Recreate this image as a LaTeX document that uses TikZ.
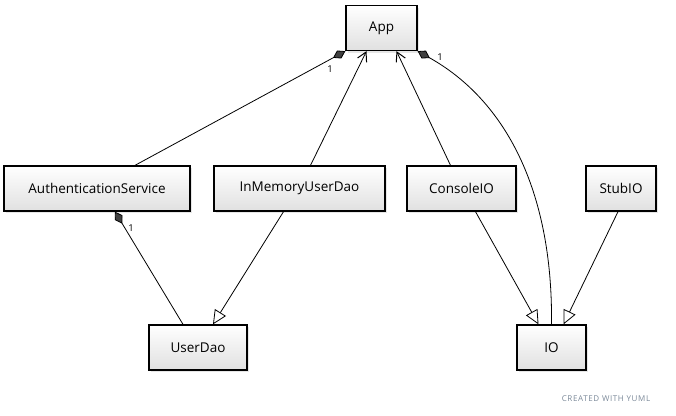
\documentclass[tikz,border=0pt]{standalone}
\usepackage{fontspec}
\setmainfont{Open Sans}
\usetikzlibrary{arrows.meta,shadows,calc}
\definecolor{yumlgray}{HTML}{7A8898}
\begin{document}
\begin{tikzpicture}[x=1pt,y=-1pt,
  cls/.style={draw=black, line width=1.3pt, top color=white, bottom color=black!12,
    minimum height=45pt, inner sep=0pt, font=\fontsize{13.5}{15}\selectfont,
    drop shadow={opacity=0.2, shadow xshift=2pt, shadow yshift=-2pt}},
  link/.style={line width=0.8pt, black},
  comp/.style={link, {Diamond[length=14pt,width=9pt,fill=black!75,line width=0.8pt]}-},
  nav/.style={link, -{Straight Barb[length=9pt,width=10pt,line width=1pt]}},
  inh/.style={link, -{Triangle[open,length=14pt,width=13pt,fill=white,line width=0.8pt]}},
  mult/.style={font=\fontsize{9.5}{10}\selectfont, inner sep=0pt}
]
\useasboundingbox (0,0) rectangle (676,415);

\node[cls, minimum width=71pt]  (app)     at (381.5,28)  {App};
\node[cls, minimum width=186pt] (auth)    at (97,188.5)  {AuthenticationService};
\node[cls, minimum width=171pt] (imud)    at (299.5,188.5) {InMemoryUserDao};
\node[cls, minimum width=109pt] (console) at (461.5,188.5) {ConsoleIO};
\node[cls, minimum width=70pt]  (stub)    at (621,188.5) {StubIO};
\node[cls, minimum width=98pt]  (userdao) at (198,347.5) {UserDao};
\node[cls, minimum width=69pt]  (io)      at (551.5,347.5) {IO};

% App -- AuthenticationService (composition)
\draw[comp] (app.south west) -- ($(auth.north)+(38,0)$);
\node[mult] (m1) at (330,69) {1};
% InMemoryUserDao -> App
\draw[nav] ($(imud.north)+(11,0)$) -- ($(app.south)+(-15,0)$);
% ConsoleIO -> App
\draw[nav] ($(console.north)+(-11,0)$) -- ($(app.south)+(15,0)$);
% App -- IO (composition, curved)
\draw[comp] (app.south east) .. controls (505,100) and (553,190) .. (io.north);
\node[mult] (m2) at (440,57) {1};
% AuthenticationService -- UserDao (composition)
\draw[comp] ($(auth.south)+(18,0)$) -- ($(userdao.north)+(-15,0)$);
\node[mult] (m3) at (131,228) {1};
% InMemoryUserDao -> UserDao (inheritance)
\draw[inh] ($(imud.south)+(-16,0)$) -- ($(userdao.north)+(15,0)$);
% ConsoleIO -> IO
\draw[inh] ($(console.south)+(14,0)$) -- ($(io.north)+(-13,0)$);
% StubIO -> IO
\draw[inh] ($(stub.south)+(-3,0)$) -- ($(io.north)+(12,0)$);

\node[font=\fontsize{8}{9}\selectfont\addfontfeature{LetterSpace=8}, text=yumlgray, inner sep=0pt] (credit) at (606,399) {CREATED WITH YUML};
\end{tikzpicture}
\end{document}
